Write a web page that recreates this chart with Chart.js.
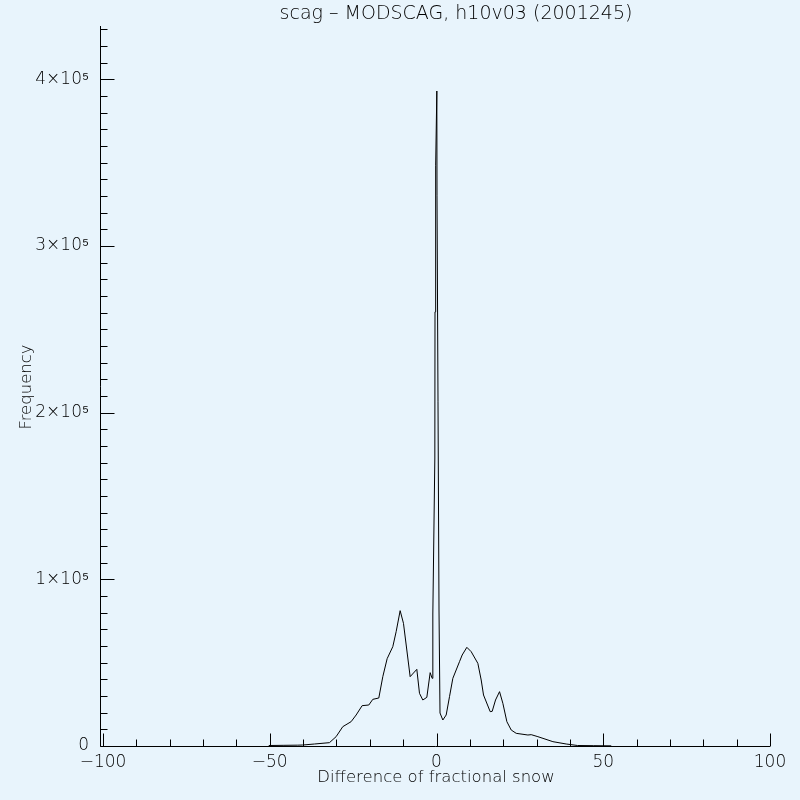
<!DOCTYPE html>
<html>
<head>
<meta charset="utf-8">
<script src="https://cdn.jsdelivr.net/npm/chart.js@4.4.1/dist/chart.umd.min.js"></script>
<style>
  html, body { margin: 0; padding: 0; background: #e8f4fc; }
  canvas { display: block; }
</style>
</head>
<body>
<canvas id="chart" width="800" height="800"></canvas>
<script>
// ── Data ────────────────────────────────────────────────────────────────────
const diffValues = [
  -50.3, -46, -41.6, -40.1, -36.6, -32.1, -30.1, -28.1, -25.6, -24.1,
  -22.3, -20.3, -19.1, -17.3, -16.1, -14.8, -13.1, -12.1, -10.9, -9.9,
  -7.9, -5.9, -5.1, -4.1, -2.9, -1.9, -1.3,
  -1.1, -0.5, -0.45, -0.25, 0.1, 0.15, 0.45, 0.75, 1.05, 1.9,
  2.9, 3.9, 4.9, 6.9, 7.7, 9.1, 10.4, 12.4, 13.4, 14.1,
  16.1, 16.7, 17.7, 18.9, 19.9, 21.1, 22.4, 23.9, 27.4, 28.4,
  30.4, 34.9, 38.9, 42.3, 47, 52.4
];
const frequency = [
  300, 400, 500, 600, 1200, 2000, 5600, 11600, 14600, 18600,
  24200, 24600, 28000, 28800, 41600, 52400, 59600, 68600, 81200, 73600,
  41600, 46000, 31600, 27600, 29200, 44000, 40600,
  79200, 172800, 260500, 348500, 393000, 330500, 206500, 81600, 19800, 15600,
  18600, 29600, 40600, 50600, 54600, 59200, 56600, 49600, 39600, 30600,
  20600, 20800, 27600, 32600, 25600, 14600, 9600, 7600, 6600, 6800,
  5600, 2600, 1200, 300, 200, 100
];

const xMajorTicks = [-100, -50, 0, 50, 100];
const yMajorTicks = [0, 100000, 200000, 300000, 400000];
const yTickLabels = ['0', '1×10⁵', '2×10⁵', '3×10⁵', '4×10⁵'];

const titleText = 'scag – MODSCAG, h10v03 (2001245)';
const xTitle = 'Difference of fractional snow';
const yTitle = 'Frequency';

// ── Styling ────────────────────────────────────────────────────────────────
const BG = '#e8f4fc';
const INK = '#000';
const FONT = "'DejaVu Sans', sans-serif";

// IDL-style axes: only left + bottom, ticks pointing inward
const idlAxes = {
  id: 'idl-axes',
  beforeDraw(chart) {
    const ctx = chart.ctx;
    ctx.save();
    ctx.fillStyle = BG;
    ctx.fillRect(0, 0, chart.width, chart.height);
    ctx.restore();
  },
  afterDraw(chart) {
    const { ctx, chartArea: a } = chart;
    const x = chart.scales.x, y = chart.scales.y;
    const bottom = Math.round(a.bottom) + 0.5;
    const left = Math.round(a.left) + 0.5;

    ctx.save();
    ctx.strokeStyle = INK;
    ctx.lineWidth = 1;
    ctx.beginPath();
    // axis lines
    ctx.moveTo(left, a.top);
    ctx.lineTo(left, bottom);
    ctx.lineTo(a.right, bottom);

    // x ticks every 10, major every 50
    for (let v = -100; v <= 100; v += 10) {
      const px = Math.round(x.getPixelForValue(v)) + 0.5;
      const len = v % 50 === 0 ? 13 : 7;
      ctx.moveTo(px, bottom);
      ctx.lineTo(px, bottom - len);
    }
    // y ticks every 1e4, major every 1e5
    for (let v = 0; v <= 430000; v += 10000) {
      const py = Math.round(y.getPixelForValue(v)) + 0.5;
      const len = v % 100000 === 0 ? 14 : 7;
      ctx.moveTo(left, py);
      ctx.lineTo(left + len, py);
    }
    ctx.stroke();

    // titles
    ctx.fillStyle = INK;
    ctx.textAlign = 'center';
    ctx.textBaseline = 'middle';
    ctx.font = '200 19px ' + FONT;
    ctx.fillText(titleText, 456, 14);
    ctx.font = '200 16.5px ' + FONT;
    ctx.fillText(xTitle, 436, 778);
    ctx.translate(27, 387);
    ctx.rotate(-Math.PI / 2);
    ctx.fillText(yTitle, 0, 0);
    ctx.restore();
  }
};

new Chart(document.getElementById('chart'), {
  type: 'scatter',
  data: {
    datasets: [{
      data: diffValues.map((d, i) => ({ x: d, y: frequency[i] })),
      showLine: true,
      borderColor: INK,
      borderWidth: 1,
      pointRadius: 0,
      tension: 0,
    }]
  },
  options: {
    responsive: false,
    animation: false,
    layout: { padding: { top: 26, right: 30, left: 0, bottom: 0 } },
    plugins: { legend: { display: false }, tooltip: { enabled: false } },
    scales: {
      x: {
        type: 'linear',
        min: -100.9,
        max: 100,
        grid: { display: false },
        border: { display: false },
        afterBuildTicks: s => { s.ticks = xMajorTicks.map(v => ({ value: v })); },
        afterFit: s => { s.height = 54; },
        ticks: {
          autoSkip: false,
          maxRotation: 0,
          padding: -2,
          color: INK,
          font: { family: FONT, size: 17, weight: 200 },
          callback: v => (v < 0 ? '−' + Math.abs(v) : String(v)),
        },
      },
      y: {
        type: 'linear',
        min: 0,
        max: 432000,
        grid: { display: false },
        border: { display: false },
        afterBuildTicks: s => { s.ticks = yMajorTicks.map(v => ({ value: v })); },
        afterFit: s => { s.width = 100; },
        ticks: {
          autoSkip: false,
          padding: 3,
          color: INK,
          font: { family: FONT, size: 17, weight: 200 },
          callback: v => yTickLabels[yMajorTicks.indexOf(v)],
        },
      },
    },
  },
  plugins: [idlAxes],
});
</script>
</body>
</html>
